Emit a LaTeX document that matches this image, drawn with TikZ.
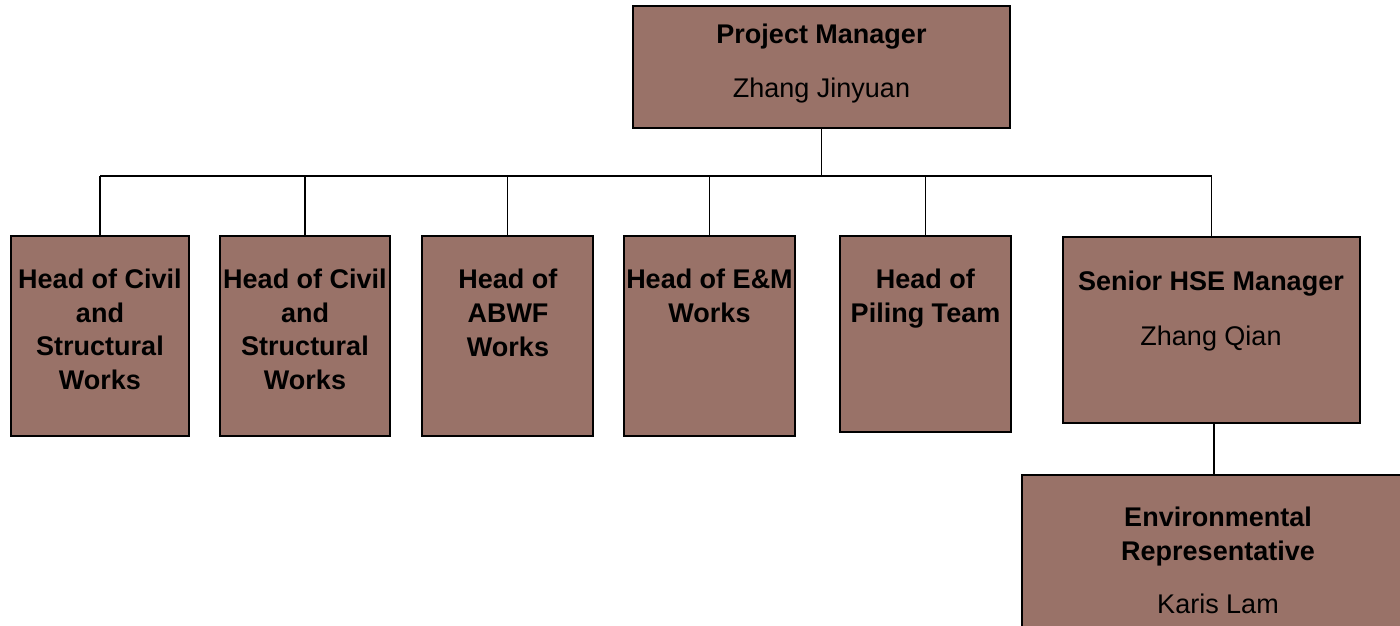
\documentclass[tikz,border=0pt]{standalone}
\usepackage{fontspec}
\setmainfont{Liberation Sans}
\definecolor{boxfill}{RGB}{153,114,104}
\begin{document}
\begin{tikzpicture}[x=1pt,y=-1pt,
  orgbox/.style={draw=black, line width=2pt, fill=boxfill, rectangle, inner sep=0pt},
  conn/.style={draw=black, line width=1.5pt},
  lbl/.style={anchor=north, inner sep=0pt, align=center, text=black, font=\fontsize{27}{33.8}\selectfont}]
\useasboundingbox (0,0) rectangle (1400,626);
% boxes
\node[orgbox, minimum width=377, minimum height=122] (pm) at (821.5,67) {};
\node[orgbox, minimum width=178, minimum height=200] (c1) at (100,336) {};
\node[orgbox, minimum width=170, minimum height=200] (c2) at (305,336) {};
\node[orgbox, minimum width=171, minimum height=200] (c3) at (507.5,336) {};
\node[orgbox, minimum width=171, minimum height=200] (c4) at (709.5,336) {};
\node[orgbox, minimum width=171, minimum height=196] (c5) at (925.5,334) {};
\node[orgbox, minimum width=297, minimum height=186] (hse) at (1211.5,330) {};
\node[orgbox, minimum width=392, minimum height=170] (env) at (1218,560) {};
% texts
\node[lbl] (tpm) at (821.5,23.5) {\textbf{Project Manager}\\[20pt]Zhang Jinyuan};
\node[lbl] (tc1) at (100,268.5) {\textbf{Head of Civil}\\\textbf{and}\\\textbf{Structural}\\\textbf{Works}};
\node[lbl] (tc2) at (305,268.5) {\textbf{Head of Civil}\\\textbf{and}\\\textbf{Structural}\\\textbf{Works}};
\node[lbl] (tc3) at (508,269) {\textbf{Head of}\\\textbf{ABWF}\\\textbf{Works}};
\node[lbl] (tc4) at (709.5,269) {\textbf{Head of E\&M}\\\textbf{Works}};
\node[lbl] (tc5) at (925.5,269) {\textbf{Head of}\\\textbf{Piling Team}};
\node[lbl] (thse) at (1211,270.5) {\textbf{Senior HSE Manager}\\[21pt]Zhang Qian};
\node[lbl] (tenv) at (1218,507) {\textbf{Environmental}\\\textbf{Representative}\\[19pt]Karis Lam};
% connectors
\coordinate (bus) at (821,176);
\draw[conn] (pm.south) -- (pm.south |- bus);
\draw[conn] (c1.north |- bus) -- (hse.north |- bus);
\foreach \b in {c1,c2,c3,c4,c5,hse}{
  \draw[conn] (\b.north) -- (\b.north |- bus);
}
\draw[conn] ([xshift=2.5pt]hse.south) -- ([xshift=2.5pt]hse.south |- env.north);
\end{tikzpicture}
\end{document}
